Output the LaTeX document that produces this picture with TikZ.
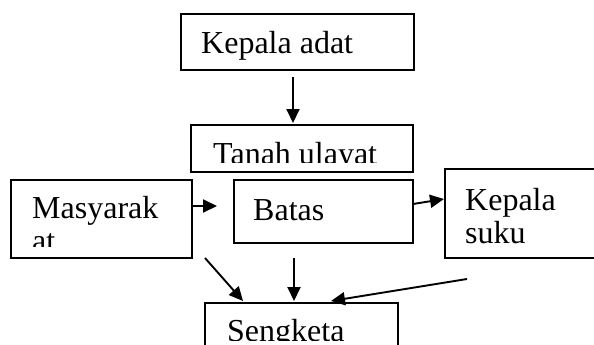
\documentclass[tikz,border=0pt]{standalone}
\usepackage{fontspec}
\setmainfont{Liberation Serif}
\usetikzlibrary{arrows.meta,calc}
\begin{document}
\begin{tikzpicture}[x=1pt,y=-1pt,
  box/.style={draw=black,line width=1.9pt,fill=none,inner sep=0pt,anchor=north west},
  txt/.style={inner sep=0pt,anchor=base west,font=\fontsize{32}{33}\selectfont},
  arr/.style={line width=1.9pt,-{Triangle[length=14pt,width=13pt]}}]
\useasboundingbox (0,0) rectangle (594,345);
% boxes
\node[box,minimum width=233pt,minimum height=56pt] (ka) at (180,13) {};
\node[box,minimum width=222pt,minimum height=47pt] (tu) at (190,124) {};
\node[box,minimum width=181pt,minimum height=78pt] (ms) at (10,179) {};
\node[box,minimum width=179pt,minimum height=63pt] (bt) at (233,179) {};
\node[box,minimum width=170pt,minimum height=89pt] (ks) at (444,168) {};
\node[box,minimum width=193pt,minimum height=80pt] (sk) at (204,302) {};
% texts
\node[txt] (tka) at (201,53) {Kepala adat};
\begin{scope}
  \clip (190,124) rectangle (412,162);
  \node[txt] (ttu) at (213,164) {Tanah ulayat};
\end{scope}
\begin{scope}
  \clip (10,179) rectangle (191,246);
  \node[txt,align=left,anchor=north west] (tms) at (32,196.5) {Masyarak\\at};
\end{scope}
\node[txt] (tbt) at (253,220) {Batas};
\node[txt,align=left,anchor=north west] (tks) at (465,188.5) {Kepala\\suku};
\begin{scope}
  \clip (204,302) rectangle (397,340);
  \node[txt] (tsk) at (227,341) {Sengketa};
\end{scope}
% connector end points
\coordinate (c1a) at (293,77);
\coordinate (c1b) at (293,123);
\coordinate (c2a) at (191,206);
\coordinate (c2b) at (217,206);
\coordinate (c3a) at (413,204);
\coordinate (c3b) at (444,199);
\coordinate (c4a) at (205,258);
\coordinate (c4b) at (243,301);
\coordinate (c5a) at (294,258);
\coordinate (c5b) at (294,301);
\coordinate (c6a) at (467,279);
\coordinate (c6b) at (331,301);
\draw[arr] (c1a) -- (c1b);
\draw[arr] (c2a) -- (c2b);
\draw[arr] (c3a) -- (c3b);
\draw[arr] (c4a) -- (c4b);
\draw[arr] (c5a) -- (c5b);
\draw[arr] (c6a) -- (c6b);
\end{tikzpicture}
\end{document}
